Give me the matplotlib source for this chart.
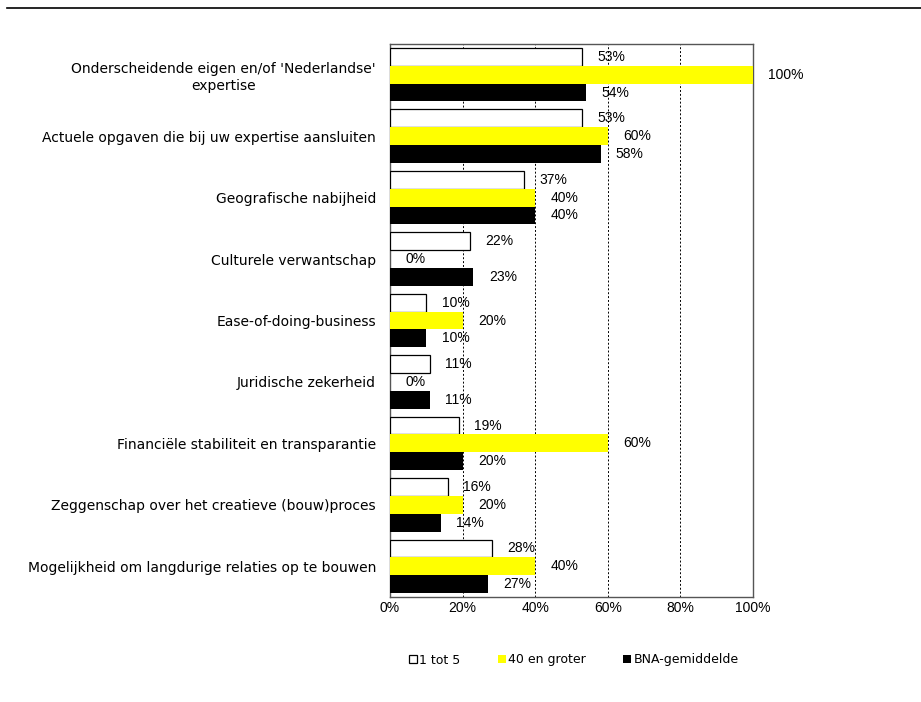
import matplotlib.pyplot as plt
import numpy as np

plt.rcParams['font.family'] = ['DejaVu Sans']
plt.rcParams['font.size'] = 10

categories = [
    "Onderscheidende eigen en/of 'Nederlandse'\nexpertise",
    "Actuele opgaven die bij uw expertise aansluiten",
    "Geografische nabijheid",
    "Culturele verwantschap",
    "Ease-of-doing-business",
    "Juridische zekerheid",
    "Financiële stabiliteit en transparantie",
    "Zeggenschap over het creatieve (bouw)proces",
    "Mogelijkheid om langdurige relaties op te bouwen",
]
klein = [53, 53, 37, 22, 10, 11, 19, 16, 28]        # 1 tot 5
groot = [100, 60, 40, 0, 20, 0, 60, 20, 40]         # 40 en groter
gemiddeld = [54, 58, 40, 23, 10, 11, 20, 14, 27]    # BNA-gemiddelde

series = [
    ("1 tot 5", klein, dict(facecolor="white", edgecolor="black", linewidth=0.9)),
    ("40 en groter", groot, dict(facecolor="#ffff00", edgecolor="none")),
    ("BNA-gemiddelde", gemiddeld, dict(facecolor="black", edgecolor="none")),
]
num_font = ['Liberation Sans', 'DejaVu Sans']

fig = plt.figure(figsize=(9.21, 7.02), dpi=100)
ax = fig.add_axes([390 / 921, 105 / 702, 363 / 921, 553 / 702])

# thin rule across the top of the page
fig.add_artist(plt.Line2D([7 / 921, 1.0], [1 - 8 / 702, 1 - 8 / 702],
                          color="black", linewidth=1.2))

y = np.arange(len(categories))
h = 0.29
for i, (name, vals, style) in enumerate(series):
    pos = y + (i - 1) * h
    ax.barh(pos, vals, height=h, label=name, zorder=3, **style)
    for p, v in zip(pos, vals):
        ax.annotate(f"{v}%", xy=(v, p), xytext=(11, 0), textcoords="offset points",
                    va="center", ha="left", fontsize=10, family=num_font,
                    annotation_clip=False)

ax.set_xlim(0, 100)
ax.set_ylim(len(categories) - 0.5, -0.5)
ax.set_xticks([0, 20, 40, 60, 80, 100])
ax.set_xticklabels([f"{t}%" for t in [0, 20, 40, 60, 80, 100]], family=num_font)
ax.set_yticks(y)
ax.set_yticklabels(categories, multialignment="center", linespacing=1.25)
ax.tick_params(axis="both", length=0, pad=10)
ax.tick_params(axis="x", pad=3)

for t in [20, 40, 60, 80]:
    ax.axvline(t, color="black", linestyle=(0, (2, 2)), linewidth=0.7, zorder=1)

for s in ax.spines.values():
    s.set_color("#555555")
    s.set_linewidth(1.0)

fig.legend(loc="center", bbox_to_anchor=(574 / 921, 1 - 660 / 702), ncol=3,
           frameon=False, handlelength=0.6, handleheight=0.6, handletextpad=0.2,
           columnspacing=3.0, fontsize=9)

fig.savefig("out.png", dpi=100)
